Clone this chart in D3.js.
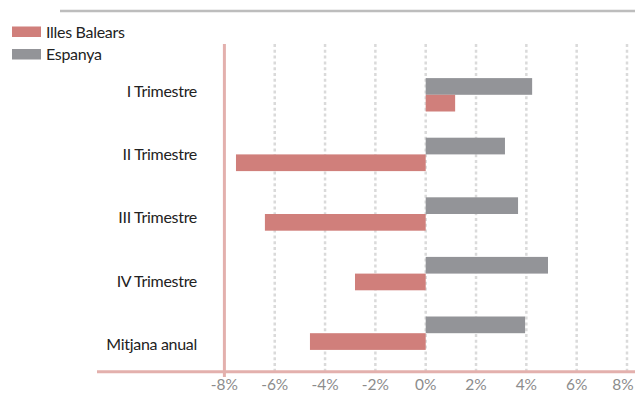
<!DOCTYPE html>
<html>
<head>
<meta charset="utf-8">
<script src="https://cdn.jsdelivr.net/npm/d3@7"></script>
<style>
  body { margin: 0; background: #fff; }
  svg { display: block; font-family: Lato, "Open Sans", sans-serif; }
</style>
</head>
<body>
<svg width="635" height="400"></svg>
<script>
// Chart data
var categories = ["I Trimestre", "II Trimestre", "III Trimestre", "IV Trimestre", "Mitjana anual"];
var balears = [1.17, -7.54, -6.39, -2.81, -4.6];
var espanya = [4.23, 3.15, 3.67, 4.86, 3.95];
var seriesNames = ["Illes Balears", "Espanya"];
var ticks = [-8, -6, -4, -2, 0, 2, 4, 6, 8];

var pink = "#d07f7b", grey = "#939498";

var svg = d3.select("svg");

// scales
var x = d3.scaleLinear().domain([-8, 8]).range([224.4, 627]);
var y = d3.scaleBand().domain(categories).range([65, 363]);
var yLabel = d3.scaleBand().domain(categories).range([60, 375.6]);
var barH = 16.7;

// top rule
svg.append("line")
  .attr("x1", 60).attr("x2", 635)
  .attr("y1", 11).attr("y2", 11)
  .attr("stroke", "#bdbdbd").attr("stroke-width", 2.5);

// dotted gridlines
svg.append("g")
  .selectAll("line")
  .data(ticks.filter(function(t) { return t > -8; }))
  .enter().append("line")
    .attr("x1", function(d) { return x(d); })
    .attr("x2", function(d) { return x(d); })
    .attr("y1", 44).attr("y2", 371)
    .attr("stroke", "#dadada")
    .attr("stroke-width", 2.5)
    .attr("stroke-dasharray", "3,2.8");

// bars
var rows = categories.map(function(c, i) { return { cat: c, b: balears[i], e: espanya[i] }; });

svg.append("g").selectAll("rect")
  .data(rows).enter().append("rect")
    .attr("x", function(d) { return x(Math.min(0, d.e)); })
    .attr("width", function(d) { return Math.abs(x(d.e) - x(0)); })
    .attr("y", function(d) { return y(d.cat) + y.bandwidth() / 2 - barH; })
    .attr("height", barH)
    .attr("fill", grey);

svg.append("g").selectAll("rect")
  .data(rows).enter().append("rect")
    .attr("x", function(d) { return x(Math.min(0, d.b)); })
    .attr("width", function(d) { return Math.abs(x(d.b) - x(0)); })
    .attr("y", function(d) { return y(d.cat) + y.bandwidth() / 2; })
    .attr("height", barH)
    .attr("fill", pink);

// axes lines
svg.append("line")
  .attr("x1", x(-8)).attr("x2", x(-8))
  .attr("y1", 44).attr("y2", 377)
  .attr("stroke", "#e3b0ad").attr("stroke-width", 3);

svg.append("line")
  .attr("x1", 97).attr("x2", 635)
  .attr("y1", 371.7).attr("y2", 371.7)
  .attr("stroke", "#e3b0ad").attr("stroke-width", 3);

// x tick labels
svg.append("g").selectAll("text")
  .data(ticks).enter().append("text")
    .attr("x", function(d) { return x(d) - (d === 8 ? 4 : 0); })
    .attr("y", 385)
    .attr("dy", "0.35em")
    .attr("text-anchor", "middle")
    .attr("fill", "#8c8c8c")
    .attr("font-size", 15.5)
    .text(function(d) { return d + "%"; });

// category labels
svg.append("g").selectAll("text")
  .data(categories).enter().append("text")
    .attr("x", 197)
    .attr("y", function(d) { return yLabel(d) + yLabel.bandwidth() / 2; })
    .attr("dy", "0.35em")
    .attr("text-anchor", "end")
    .attr("fill", "#222")
    .attr("font-size", 16)
    .attr("letter-spacing", "-0.3")
    .text(function(d) { return d; });

// legend
var legend = svg.append("g").selectAll("g")
  .data(seriesNames).enter().append("g")
    .attr("transform", function(d, i) { return "translate(12," + (26.5 + i * 22.5) + ")"; });

legend.append("rect")
  .attr("width", 29).attr("height", 10.5)
  .attr("fill", function(d, i) { return i === 0 ? pink : grey; });

legend.append("text")
  .attr("x", 34).attr("y", 5.5)
  .attr("dy", "0.35em")
  .attr("fill", "#222")
  .attr("font-size", 16)
  .attr("letter-spacing", "-0.3")
  .text(function(d) { return d; });
</script>
</body>
</html>
